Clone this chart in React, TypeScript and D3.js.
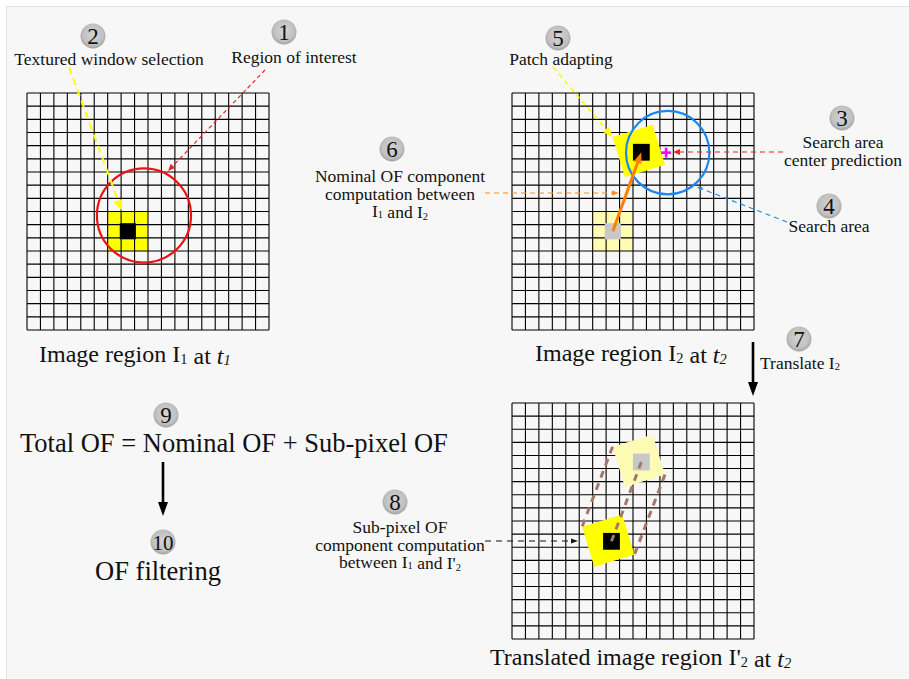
import React from "react";
import * as d3 from "d3";

const W = 909;
const H = 679;
const CELLS = 18;
const gridTicks = d3.range(CELLS + 1);

const badgeLabels = ["1", "2", "3", "4", "5", "6", "7", "8", "9", "10"];
const badgePos: [number, number][] = [
  [284, 32], [93, 36], [842, 118], [829, 206], [558, 38],
  [392, 149], [799, 339], [395, 502], [166, 415], [163, 542],
];

const label1 = ["Region of interest"];
const label2 = ["Textured window selection"];
const label3 = ["Search area", "center prediction"];
const label4 = ["Search area"];
const label5 = ["Patch adapting"];
const formula = "Total OF = Nominal OF + Sub-pixel OF";
const filtering = "OF filtering";

// positions inside grids, in cell units
const refPatch = { cx: 7.5, cy: 10.5, size: 3, core: 1.2 };
const roi = { cx: 8.7, cy: 9.3, r: 3.5 };
const adaptedPatch = { cx: 9.43, cy: 4.4, size: 3.12, angle: -17 };
const adaptedCore = { cx: 9.62, cy: 4.5, size: 1.25 };
const searchArea = { cx: 11.58, cy: 4.53, r: 3.1 };
const predCenter = { cx: 11.46, cy: 4.53 };
const subPatch = { cx: 7.16, cy: 10.5, size: 3.12, angle: -17 };
const subCore = { cx: 7.4, cy: 10.55, size: 1.25 };

const grids = [
  { x0: 27, y0: 93, w: 242, h: 237 },
  { x0: 512, y0: 93, w: 242, h: 237 },
  { x0: 512, y0: 403, w: 242, h: 236 },
];

const FONT = "'Liberation Serif', 'Times New Roman', serif";
const YEL = "#ffff00";
const LYEL = "#fefbb4";
const GRAY = "#c8c8c8";
const BROWN = "#a5776a";

function scales(g: { x0: number; y0: number; w: number; h: number }) {
  const sx = d3.scaleLinear().domain([0, CELLS]).range([g.x0, g.x0 + g.w]);
  const sy = d3.scaleLinear().domain([0, CELLS]).range([g.y0, g.y0 + g.h]);
  return { sx, sy, k: g.w / CELLS };
}

function Grid({ g }: { g: { x0: number; y0: number; w: number; h: number } }) {
  const { sx, sy } = scales(g);
  return (
    <g stroke="#000" strokeWidth={1.1} fill="none">
      {gridTicks.map((t) => (
        <line key={"v" + t} x1={sx(t)} x2={sx(t)} y1={sy(0)} y2={sy(CELLS)} />
      ))}
      {gridTicks.map((t) => (
        <line key={"h" + t} x1={sx(0)} x2={sx(CELLS)} y1={sy(t)} y2={sy(t)} />
      ))}
    </g>
  );
}

function Arrow({
  x1, y1, x2, y2, color, width = 1, dash, head = 8, headW = 7,
}: {
  x1: number; y1: number; x2: number; y2: number; color: string;
  width?: number; dash?: string; head?: number; headW?: number;
}) {
  const dx = x2 - x1, dy = y2 - y1;
  const L = Math.hypot(dx, dy);
  const ux = dx / L, uy = dy / L;
  const bx = x2 - ux * head, by = y2 - uy * head;
  const px = -uy * headW / 2, py = ux * headW / 2;
  return (
    <g>
      <line x1={x1} y1={y1} x2={bx + ux * 0.5} y2={by + uy * 0.5} stroke={color} strokeWidth={width} strokeDasharray={dash} />
      <polygon points={`${x2},${y2} ${bx + px},${by + py} ${bx - px},${by - py}`} fill={color} />
    </g>
  );
}

function Badge({ x, y, label }: { x: number; y: number; label: string }) {
  return (
    <g>
      <circle cx={x} cy={y} r={12.5} fill="url(#badgeGrad)" />
      <text x={x} y={y + 8} textAnchor="middle" fontFamily={FONT} fontSize={label.length > 1 ? 21 : 23} fill="#111">
        {label}
      </text>
    </g>
  );
}

function Lines({ x, y, lines, size = 17.5, lh = 17.5 }: { x: number; y: number; lines: React.ReactNode[]; size?: number; lh?: number }) {
  return (
    <text x={x} y={y} textAnchor="middle" fontFamily={FONT} fontSize={size} fill="#111">
      {lines.map((l, i) => (
        <tspan key={i} x={x} dy={i === 0 ? 0 : lh}>{l}</tspan>
      ))}
    </text>
  );
}

const Sub = ({ c, italic }: { c: string; italic?: boolean }) => (
  <tspan fontSize="0.6em" dy="0.12em" fontStyle={italic ? "italic" : undefined}>{c}</tspan>
);
const Up = () => <tspan dy="-0.12em"></tspan>;

function rotCorner(p: { cx: number; cy: number; size: number; angle: number }, sx: any, sy: any, k: number, ox: number, oy: number) {
  const a = (p.angle * Math.PI) / 180;
  const s = (p.size * k) / 2;
  const x = ox * s, y = oy * s;
  return [sx(p.cx) + x * Math.cos(a) - y * Math.sin(a), sy(p.cy) + x * Math.sin(a) + y * Math.cos(a)];
}

export default function App() {
  const g1 = scales(grids[0]);
  const g2 = scales(grids[1]);
  const g3 = scales(grids[2]);

  const rotRect = (p: any, s: any, fill: string) => {
    const side = p.size * s.k;
    return (
      <rect x={s.sx(p.cx) - side / 2} y={s.sy(p.cy) - side / 2} width={side} height={side} fill={fill}
        transform={`rotate(${p.angle},${s.sx(p.cx)},${s.sy(p.cy)})`} />
    );
  };
  const sqr = (c: { cx: number; cy: number; size: number }, s: any, fill: string) => {
    const side = c.size * s.k;
    return <rect x={s.sx(c.cx) - side / 2} y={s.sy(c.cy) - side / 2} width={side} height={side} fill={fill} />;
  };

  const tl2 = rotCorner(adaptedPatch, g2.sx, g2.sy, g2.k, -1, -1);

  // grid 3 correspondence lines
  const lpTL = rotCorner(adaptedPatch, g3.sx, g3.sy, g3.k, -1, -1);
  const lpBR = rotCorner(adaptedPatch, g3.sx, g3.sy, g3.k, 1, 1);
  const spTL = rotCorner(subPatch, g3.sx, g3.sy, g3.k, -1, -1);
  const spBR = rotCorner(subPatch, g3.sx, g3.sy, g3.k, 1, 1);
  const corr = [
    [lpTL, spTL],
    [[g3.sx(adaptedCore.cx), g3.sy(adaptedCore.cy)], [g3.sx(subCore.cx), g3.sy(subCore.cy)]],
    [lpBR, spBR],
  ];

  const refSide = refPatch.size * g1.k;
  const plusS = 5;
  const pcx = g2.sx(predCenter.cx), pcy = g2.sy(predCenter.cy);

  return (
    <svg width={W} height={H} style={{ position: "fixed", left: 0, top: 0, background: "#fff" }}>
      <defs>
        <radialGradient id="badgeGrad" cx="50%" cy="45%" r="55%">
          <stop offset="0%" stopColor="#d4d4d4" />
          <stop offset="75%" stopColor="#c0c0c0" />
          <stop offset="100%" stopColor="#a2a2a2" />
        </radialGradient>
      </defs>
      <rect x={6.5} y={6.5} width={W} height={H} fill="#f7f7f7" stroke="#e4e4e4" />

      {/* Grid 1 */}
      <rect x={g1.sx(refPatch.cx) - refSide / 2} y={g1.sy(refPatch.cy) - refSide / 2} width={refSide} height={refSide} fill={YEL} />
      <Grid g={grids[0]} />
      {sqr({ cx: refPatch.cx, cy: refPatch.cy, size: refPatch.core }, g1, "#000")}
      <circle cx={g1.sx(roi.cx)} cy={g1.sy(roi.cy)} r={roi.r * g1.k} fill="none" stroke="#ee1111" strokeWidth={2.2} />
      <Arrow x1={69} y1={67} x2={g1.sx(7.05)} y2={g1.sy(8.95)} color={YEL} width={2} dash="7,5" head={11} headW={9} />
      <Arrow x1={265} y1={70} x2={168} y2={171} color="#ee2222" width={1.2} dash="4,3" head={7} headW={6} />

      {/* Grid 2 */}
      {sqr({ cx: refPatch.cx, cy: refPatch.cy, size: refPatch.size }, g2, LYEL)}
      <Grid g={grids[1]} />
      {sqr({ cx: refPatch.cx, cy: refPatch.cy, size: refPatch.core }, g2, GRAY)}
      {rotRect(adaptedPatch, g2, YEL)}
      {sqr(adaptedCore, g2, "#000")}
      <circle cx={g2.sx(searchArea.cx)} cy={g2.sy(searchArea.cy)} r={searchArea.r * g2.k} fill="none" stroke="#1a87f0" strokeWidth={2.2} />
      <line x1={pcx - plusS} x2={pcx + plusS} y1={pcy} y2={pcy} stroke="#ff00ff" strokeWidth={2.6} />
      <line x1={pcx} x2={pcx} y1={pcy - plusS} y2={pcy + plusS} stroke="#ff00ff" strokeWidth={2.6} />
      <Arrow x1={g2.sx(refPatch.cx)} y1={g2.sy(refPatch.cy)} x2={g2.sx(adaptedCore.cx)} y2={g2.sy(adaptedCore.cy)} color="#ff7f00" width={3} head={11} headW={8} />
      <Arrow x1={553} y1={67} x2={tl2[0]} y2={tl2[1]} color={YEL} width={1.6} dash="5,4" head={10} headW={8} />
      <Arrow x1={783} y1={152} x2={673} y2={152} color="#ee2222" width={1.2} dash="5,4" head={7} headW={6} />
      <Arrow x1={787} y1={222} x2={697} y2={187} color="#1a87f0" width={1.1} dash="5,4" head={5} headW={4} />
      <Arrow x1={485} y1={193} x2={619} y2={193} color="#ff8c1a" width={1.2} dash="5,4" head={7} headW={5} />

      {/* Arrow 7 */}
      <Arrow x1={753} y1={342} x2={753} y2={396} color="#000" width={2.6} head={14} headW={10} />

      {/* Grid 3 */}
      <Grid g={grids[2]} />
      {rotRect(adaptedPatch, g3, LYEL)}
      {rotRect(subPatch, g3, YEL)}
      {sqr(adaptedCore, g3, GRAY)}
      {sqr(subCore, g3, "#000")}
      {corr.map((c, i) => (
        <line key={i} x1={c[0][0]} y1={c[0][1]} x2={c[1][0]} y2={c[1][1]} stroke={BROWN} strokeWidth={3} strokeDasharray="7,6" />
      ))}
      <Arrow x1={485} y1={541} x2={578} y2={541} color="#111" width={1} dash="6,5" head={7} headW={5} />

      {/* Arrow 9 -> 10 */}
      <Arrow x1={163} y1={462} x2={163} y2={516} color="#000" width={2.6} head={14} headW={10} />

      {/* Labels */}
      <Lines x={294} y={63} lines={label1} />
      <Lines x={109} y={65} lines={label2} />
      <Lines x={843} y={148} lines={label3} />
      <Lines x={829} y={232} lines={label4} />
      <Lines x={561} y={65} lines={label5} />
      <Lines x={400} y={182} lines={["Nominal OF component", "computation between", <>I<Sub c="1" /><Up /> and I<Sub c="2" /></>]} />
      <text x={760} y={369} fontFamily={FONT} fontSize={17.5} fill="#111">Translate I<Sub c="2" /></text>
      <Lines x={400} y={533} lines={["Sub-pixel OF", "component computation", <>between I<Sub c="1" /><Up /> and I'<Sub c="2" /></>]} />

      <text x={39} y={362} fontFamily={FONT} fontSize={24} fill="#111">
        Image region I<Sub c="1" /><Up /> at <tspan fontStyle="italic">t</tspan><Sub c="1" italic />
      </text>
      <text x={535} y={361} fontFamily={FONT} fontSize={24} fill="#111">
        Image region I<Sub c="2" /><Up /> at <tspan fontStyle="italic">t</tspan><Sub c="2" italic />
      </text>
      <text x={490} y={665} fontFamily={FONT} fontSize={24} fill="#111">
        Translated image region I'<Sub c="2" /><Up /> at <tspan fontStyle="italic">t</tspan><Sub c="2" italic />
      </text>
      <text x={20} y={452} fontFamily={FONT} fontSize={26.5} fill="#111">{formula}</text>
      <text x={158} y={580} textAnchor="middle" fontFamily={FONT} fontSize={26.5} fill="#111">{filtering}</text>

      {badgeLabels.map((b, i) => (
        <Badge key={b} x={badgePos[i][0]} y={badgePos[i][1]} label={b} />
      ))}
    </svg>
  );
}
